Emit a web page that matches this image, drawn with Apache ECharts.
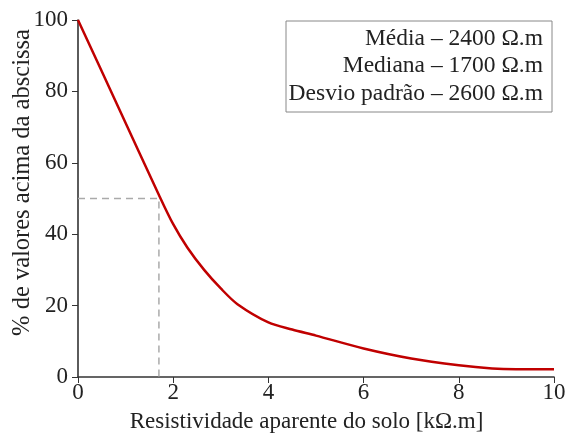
<!DOCTYPE html>
<html><head><meta charset="utf-8">
<script src="https://cdn.jsdelivr.net/npm/echarts@6/dist/echarts.min.js"></script>
<style>html,body{margin:0;padding:0;background:#fff}#c{width:566px;height:436px}</style>
</head><body><div id="c"></div>
<script>
const xValues = [0, 0.85, 1.7, 2.0, 2.3, 2.65, 3.0, 3.35, 4.0, 4.5, 5.0, 6.0, 7.0, 8.0, 8.7, 9.2, 10];
const yValues = [100, 75.5, 51, 42.8, 36.2, 30.0, 24.8, 20.4, 15.3, 13.3, 11.6, 8.0, 5.2, 3.3, 2.4, 2.2, 2.2];
const medianX = 1.7;
const medianY = 50;
const legendLines = ['Média – 2400 Ω.m', 'Mediana – 1700 Ω.m', 'Desvio padrão – 2600 Ω.m'];
const xTitle = 'Resistividade aparente do solo [kΩ.m]';
const yTitle = '% de valores acima da abscissa';

const FONT = '"Liberation Serif", "DejaVu Serif", serif';
const chart = echarts.init(document.getElementById('c'), null, {renderer: 'canvas'});
const axisCommon = {
  axisLine: {show: true, lineStyle: {color: '#333', width: 1.6}},
  axisTick: {show: true, inside: false, length: 6, lineStyle: {color: '#333', width: 1}},
  axisLabel: {color: '#222', fontFamily: FONT, fontSize: 23},
  splitLine: {show: false},
  nameLocation: 'middle',
  nameMoveOverlap: false
};
chart.setOption({
  animation: false,
  grid: {left: 78, right: 12, top: 20, bottom: 59, containLabel: false, outerBoundsMode: 'none'},
  xAxis: Object.assign({}, axisCommon, {
    type: 'value', min: 0, max: 10, interval: 2,
    name: xTitle, nameGap: 33,
    nameTextStyle: {color: '#222', fontFamily: FONT, fontSize: 23, padding: [0, 19, 0, 0]},
    axisLabel: Object.assign({}, axisCommon.axisLabel, {margin: 4})
  }),
  yAxis: Object.assign({}, axisCommon, {
    type: 'value', min: 0, max: 100, interval: 20,
    name: yTitle, nameGap: 43,
    nameTextStyle: {color: '#222', fontFamily: FONT, fontSize: 24.5, padding: [0, 0, 0, 32]},
    axisLabel: Object.assign({}, axisCommon.axisLabel, {margin: 10})
  }),
  series: [
    {
      type: 'line', data: [[0, medianY], [medianX, medianY], [medianX, 0]],
      symbol: 'none', lineStyle: {color: '#aaa', width: 1.5, type: [7, 5]}, z: 1
    },
    {
      type: 'line', data: xValues.map((x, i) => [x, yValues[i]]),
      symbol: 'none', smooth: 0.3,
      lineStyle: {color: '#c00000', width: 2.5}, z: 3
    }
  ],
  graphic: [
    {type: 'rect', shape: {x: 286, y: 21, width: 266, height: 91},
     style: {fill: '#fff', stroke: '#888', lineWidth: 1}, z: 10},
  ].concat(legendLines.map((t, i) => ({
    type: 'text', x: 543, y: 38.8 + i * 27.5, z: 11,
    style: {text: t, fill: '#222', font: '23.5px ' + FONT, textAlign: 'right', textVerticalAlign: 'middle'}
  })))
});
</script></body></html>
